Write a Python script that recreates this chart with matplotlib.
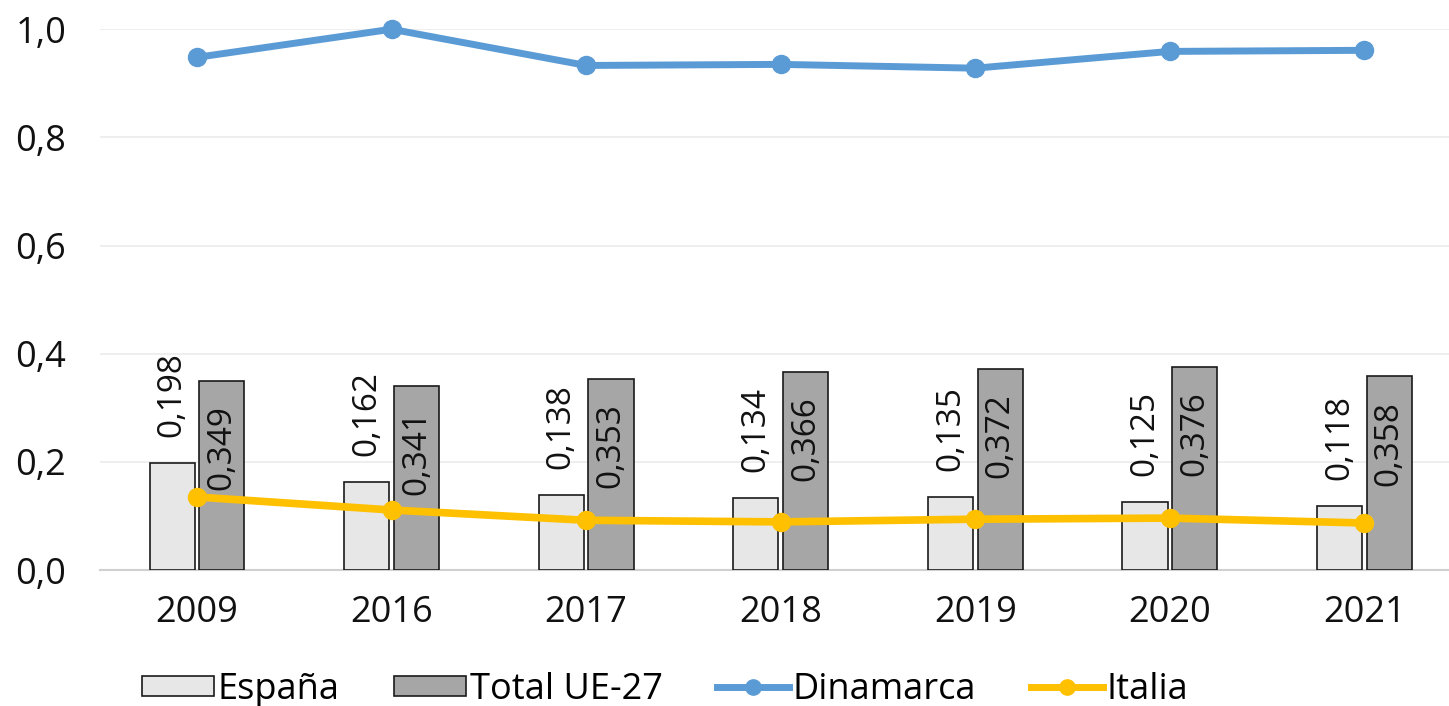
import matplotlib.pyplot as plt
from matplotlib.patches import Patch
from matplotlib.lines import Line2D
import numpy as np

years = ["2009", "2016", "2017", "2018", "2019", "2020", "2021"]
espana = [0.198, 0.162, 0.138, 0.134, 0.135, 0.125, 0.118]
total_ue = [0.349, 0.341, 0.353, 0.366, 0.372, 0.376, 0.358]
dinamarca = [0.948, 1.0, 0.933, 0.935, 0.928, 0.959, 0.961]
italia = [0.135, 0.111, 0.092, 0.089, 0.094, 0.096, 0.087]
y_ticks = [0.0, 0.2, 0.4, 0.6, 0.8, 1.0]

plt.rcParams["font.family"] = ["Open Sans", "DejaVu Sans"]

fig = plt.figure(figsize=(14.49, 7.06), dpi=100)
ax = fig.add_axes([0.0688, 0.1926, 0.940, 0.766])

x = np.arange(len(years))
w = 0.232
off = 0.128

ax.bar(x - off, espana, w, color="#e7e7e7", edgecolor="#1a1a1a", linewidth=1.2, zorder=2)
ax.bar(x + off, total_ue, w, color="#a6a6a6", edgecolor="#1a1a1a", linewidth=1.2, zorder=2)

ax.plot(x, dinamarca, color="#5b9bd5", linewidth=5, marker="o", markersize=13,
        zorder=4, clip_on=False)
ax.plot(x, italia, color="#ffc000", linewidth=5.5, marker="o", markersize=13,
        zorder=4, clip_on=False)

# value labels: above for España, inside the top of the bar for the EU total
for xi, v in zip(x, espana):
    ax.text(xi - off, v + 0.048, f"{v:.3f}".replace(".", ","), rotation=90,
            ha="center", va="bottom", fontsize=24, color="#111111", zorder=3)
for xi, v in zip(x, total_ue):
    ax.text(xi + off, v - 0.045, f"{v:.3f}".replace(".", ","), rotation=90,
            ha="center", va="top", fontsize=24, color="#111111", zorder=3)

ax.set_xlim(-0.5, len(years) - 0.5)
ax.set_ylim(0, 1.0)
ax.set_yticks(y_ticks)
ax.set_yticklabels([f"{t:.1f}".replace(".", ",") for t in y_ticks])
ax.set_xticks(x)
ax.set_xticklabels(years)
ax.tick_params(axis="both", length=0, labelsize=26, colors="#111111")
ax.tick_params(axis="x", pad=18)
ax.tick_params(axis="y", pad=24)
ax.grid(axis="y", color="#ebebeb", linewidth=1.2, zorder=0)
ax.set_axisbelow(True)
for s in ["top", "right", "left"]:
    ax.spines[s].set_visible(False)
ax.spines["bottom"].set_color("#d0d0d0")
ax.spines["bottom"].set_linewidth(1.5)
ax.spines["bottom"].set_zorder(1)

handles = [
    Patch(facecolor="#e7e7e7", edgecolor="#1a1a1a", linewidth=1.2),
    Patch(facecolor="#a6a6a6", edgecolor="#1a1a1a", linewidth=1.2),
    Line2D([], [], color="#5b9bd5", linewidth=5, marker="o", markersize=11),
    Line2D([], [], color="#ffc000", linewidth=5, marker="o", markersize=11),
]
labels = ["España", "Total UE-27", "Dinamarca", "Italia"]
fig.legend(handles, labels, loc="center", bbox_to_anchor=(0.459, 0.023), ncol=4,
           frameon=False, fontsize=26, handlelength=2.0, handletextpad=0.1,
           columnspacing=1.5, handleheight=0.5, borderpad=0)

fig.savefig("out.png", dpi=100)
